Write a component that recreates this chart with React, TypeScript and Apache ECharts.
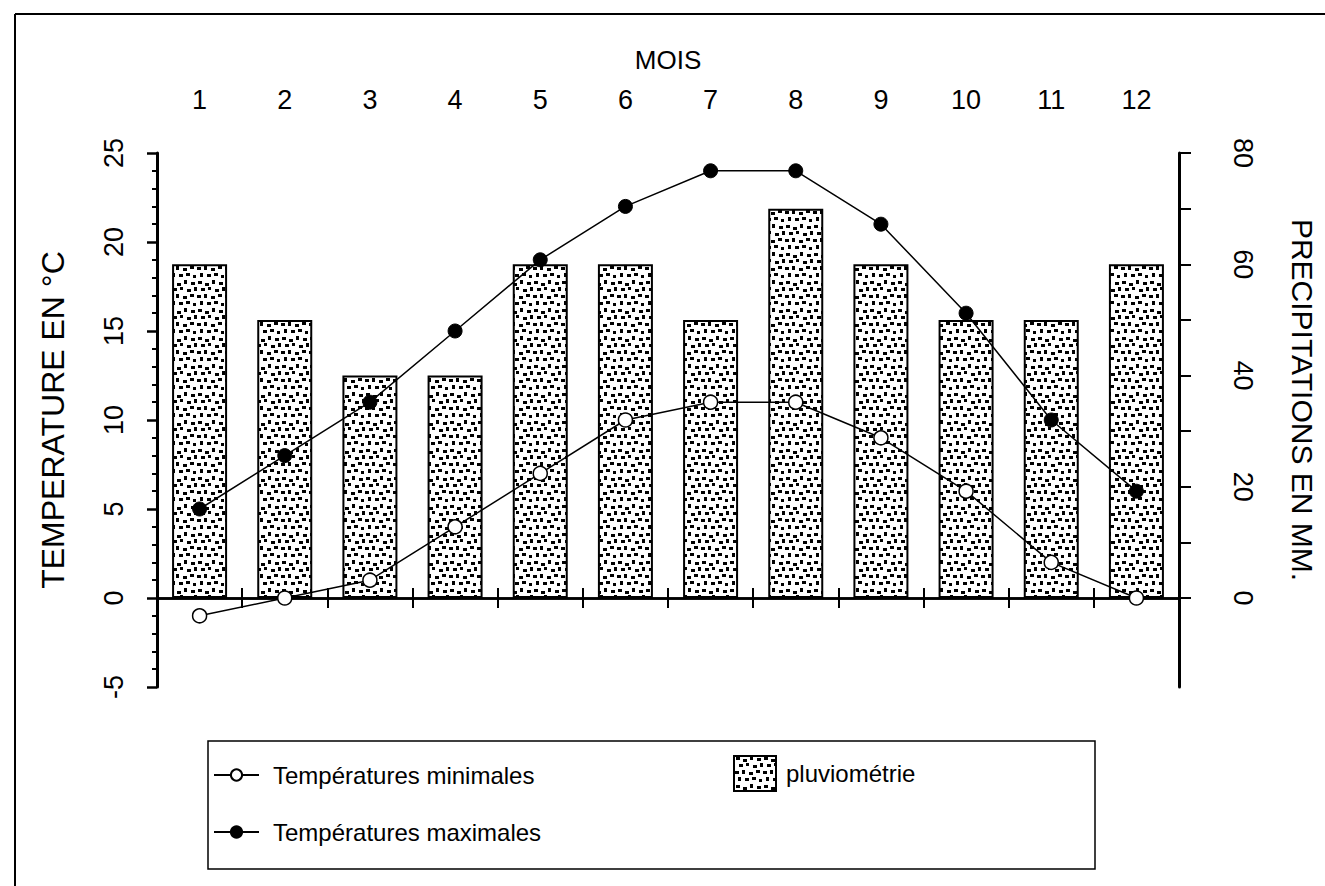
import React, { useEffect, useRef } from "react";
import * as echarts from "echarts";

const months = ["1", "2", "3", "4", "5", "6", "7", "8", "9", "10", "11", "12"];
const precipitation = [60, 50, 40, 40, 60, 60, 50, 70, 60, 50, 50, 60];
const tempMax = [5, 8, 11, 15, 19, 22, 24, 24, 21, 16, 10, 6];
const tempMin = [-1, 0, 1, 4, 7, 10, 11, 11, 9, 6, 2, 0];
const rainLabels = [0, 20, 40, 60, 80];
const rainTicks = [0, 10, 20, 30, 40, 50, 60, 70, 80];

const FONT = "'Liberation Sans', Arial, sans-serif";

// stipple texture tile (style only): dot offsets inside a 28x28 tile
const TILE = 28;
const STIPPLE = [
  [2, 1, 4, 3], [9, 3, 4, 3], [16, 0, 3, 4], [23, 2, 4, 3],
  [5, 8, 4, 3], [12, 7, 3, 3], [19, 9, 4, 3], [26, 7, 3, 4],
  [1, 15, 4, 3], [8, 14, 3, 4], [15, 16, 4, 3], [22, 14, 4, 3],
  [4, 21, 3, 4], [11, 22, 4, 3], [18, 21, 4, 3], [25, 23, 3, 3],
];

function makeStipple(): HTMLCanvasElement {
  const c = document.createElement("canvas");
  c.width = TILE;
  c.height = TILE;
  const ctx = c.getContext("2d")!;
  ctx.fillStyle = "#fff";
  ctx.fillRect(0, 0, TILE, TILE);
  ctx.fillStyle = "#000";
  for (const [x, y, w, h] of STIPPLE) {
    for (const dx of [0, -TILE]) {
      for (const dy of [0, -TILE]) {
        ctx.fillRect(x + dx, y + dy, w, h);
      }
    }
  }
  return c;
}

export default function App() {
  const ref = useRef<HTMLDivElement>(null);
  useEffect(() => {
    if (!ref.current) return;
    const chart = echarts.init(ref.current, null, { renderer: "svg" });
    const tile = makeStipple();
    const stipple = { image: tile, repeat: "repeat", imageWidth: TILE, imageHeight: TILE };
    const axisColor = "#000";
    chart.setOption({
      animation: false,
      backgroundColor: "#fff",
      textStyle: { fontFamily: FONT, color: "#000" },
      grid: { left: 157, right: 138, top: 153, bottom: 199, containLabel: false },
      xAxis: [
        {
          type: "category",
          data: months,
          position: "bottom",
          axisLine: { onZero: true, onZeroAxisIndex: 0, lineStyle: { color: axisColor, width: 2.5 } },
          axisTick: { show: true, length: 10, inside: false, lineStyle: { color: axisColor, width: 2 } },
          axisLabel: { show: false },
          splitLine: { show: false },
        },
        {
          type: "category",
          data: months,
          position: "top",
          name: "MOIS",
          nameLocation: "middle",
          nameGap: 80,
          nameTextStyle: { fontSize: 26, color: "#000", fontFamily: FONT },
          axisLine: { show: false, onZero: false },
          axisTick: { show: false },
          axisLabel: { show: true, margin: 40, fontSize: 27, color: "#000", fontFamily: FONT },
          splitLine: { show: false },
        },
        {
          type: "category",
          data: months,
          position: "bottom",
          axisLine: { onZero: true, onZeroAxisIndex: 0, lineStyle: { color: axisColor, width: 2.5 } },
          axisTick: { show: true, length: 10, inside: true, lineStyle: { color: axisColor, width: 2 } },
          axisLabel: { show: false },
          splitLine: { show: false },
        },
      ],
      yAxis: [
        {
          type: "value",
          min: -5,
          max: 25,
          interval: 5,
          position: "left",
          name: "TEMPERATURE EN °C",
          nameLocation: "middle",
          nameRotate: 90,
          nameGap: 88,
          nameTextStyle: { fontSize: 32, color: "#000", fontFamily: FONT },
          axisLine: { show: true, lineStyle: { color: axisColor, width: 3 } },
          axisTick: { show: true, length: 10, lineStyle: { color: axisColor, width: 2.5 } },
          minorTick: { show: true, splitNumber: 5, length: 5, lineStyle: { color: axisColor, width: 2 } },
          axisLabel: { rotate: 90, margin: 30, fontSize: 27, color: "#000", fontFamily: FONT },
          splitLine: { show: false },
        },
        {
          type: "value",
          min: -16,
          max: 80,
          position: "right",
          name: "PRECIPITATIONS EN MM.",
          nameLocation: "middle",
          nameRotate: -90,
          nameGap: 108,
          nameTextStyle: { fontSize: 30, color: "#000", fontFamily: FONT, padding: [0, 40, 0, 0] },
          axisLine: { show: true, onZero: false, lineStyle: { color: axisColor, width: 3 } },
          axisTick: { show: true, length: 12, customValues: rainTicks, lineStyle: { color: axisColor, width: 2 } },
          axisLabel: { rotate: -90, margin: 50, fontSize: 27, color: "#000", fontFamily: FONT, customValues: rainLabels },
          splitLine: { show: false },
        },
      ],
      legend: [
        {
          data: ["Températures minimales"],
          left: 213,
          top: 763,
          padding: 0,
          itemWidth: 45,
          itemHeight: 14,
          selectedMode: false,
          textStyle: { fontSize: 24, color: "#000", fontFamily: FONT, padding: [0, 0, 0, 9] },
        },
        {
          data: [{ name: "pluviométrie", icon: "rect" }],
          left: 733,
          top: 755,
          padding: 0,
          itemWidth: 42,
          itemHeight: 35,
          selectedMode: false,
          textStyle: { fontSize: 24, color: "#000", fontFamily: FONT, padding: [0, 0, 0, 5] },
        },
        {
          data: ["Températures maximales"],
          left: 213,
          top: 820,
          padding: 0,
          itemWidth: 45,
          itemHeight: 14,
          selectedMode: false,
          textStyle: { fontSize: 24, color: "#000", fontFamily: FONT, padding: [0, 0, 0, 9] },
        },
      ],
      graphic: [
        { type: "line", shape: { x1: 15, y1: 14, x2: 1325, y2: 14 }, style: { stroke: "#000", lineWidth: 2 } },
        { type: "line", shape: { x1: 15, y1: 14, x2: 15, y2: 886 }, style: { stroke: "#000", lineWidth: 2 } },
        {
          type: "rect",
          shape: { x: 208, y: 741, width: 887, height: 128 },
          style: { fill: "none", stroke: "#000", lineWidth: 1.5 },
        },
      ],
      series: [
        {
          name: "pluviométrie",
          type: "bar",
          xAxisIndex: 0,
          yAxisIndex: 1,
          data: precipitation,
          barWidth: 55,
          itemStyle: { color: stipple, borderColor: "#000", borderWidth: 2 },
          z: 2,
        },
        {
          name: "Températures minimales",
          type: "line",
          xAxisIndex: 0,
          yAxisIndex: 0,
          data: tempMin,
          symbol: "circle",
          symbolSize: 14,
          showAllSymbol: true,
          lineStyle: { color: "#000", width: 1.5 },
          itemStyle: { color: "#fff", borderColor: "#000", borderWidth: 1.5 },
          z: 4,
        },
        {
          name: "Températures maximales",
          type: "line",
          xAxisIndex: 0,
          yAxisIndex: 0,
          data: tempMax,
          symbol: "circle",
          symbolSize: 14,
          showAllSymbol: true,
          lineStyle: { color: "#000", width: 1.5 },
          itemStyle: { color: "#000", borderColor: "#000", borderWidth: 1 },
          z: 4,
        },
      ],
    });
    return () => chart.dispose();
  }, []);
  return (
    <div
      ref={ref}
      style={{ position: "fixed", left: 0, top: 0, width: 1325, height: 886, background: "#fff" }}
    />
  );
}
